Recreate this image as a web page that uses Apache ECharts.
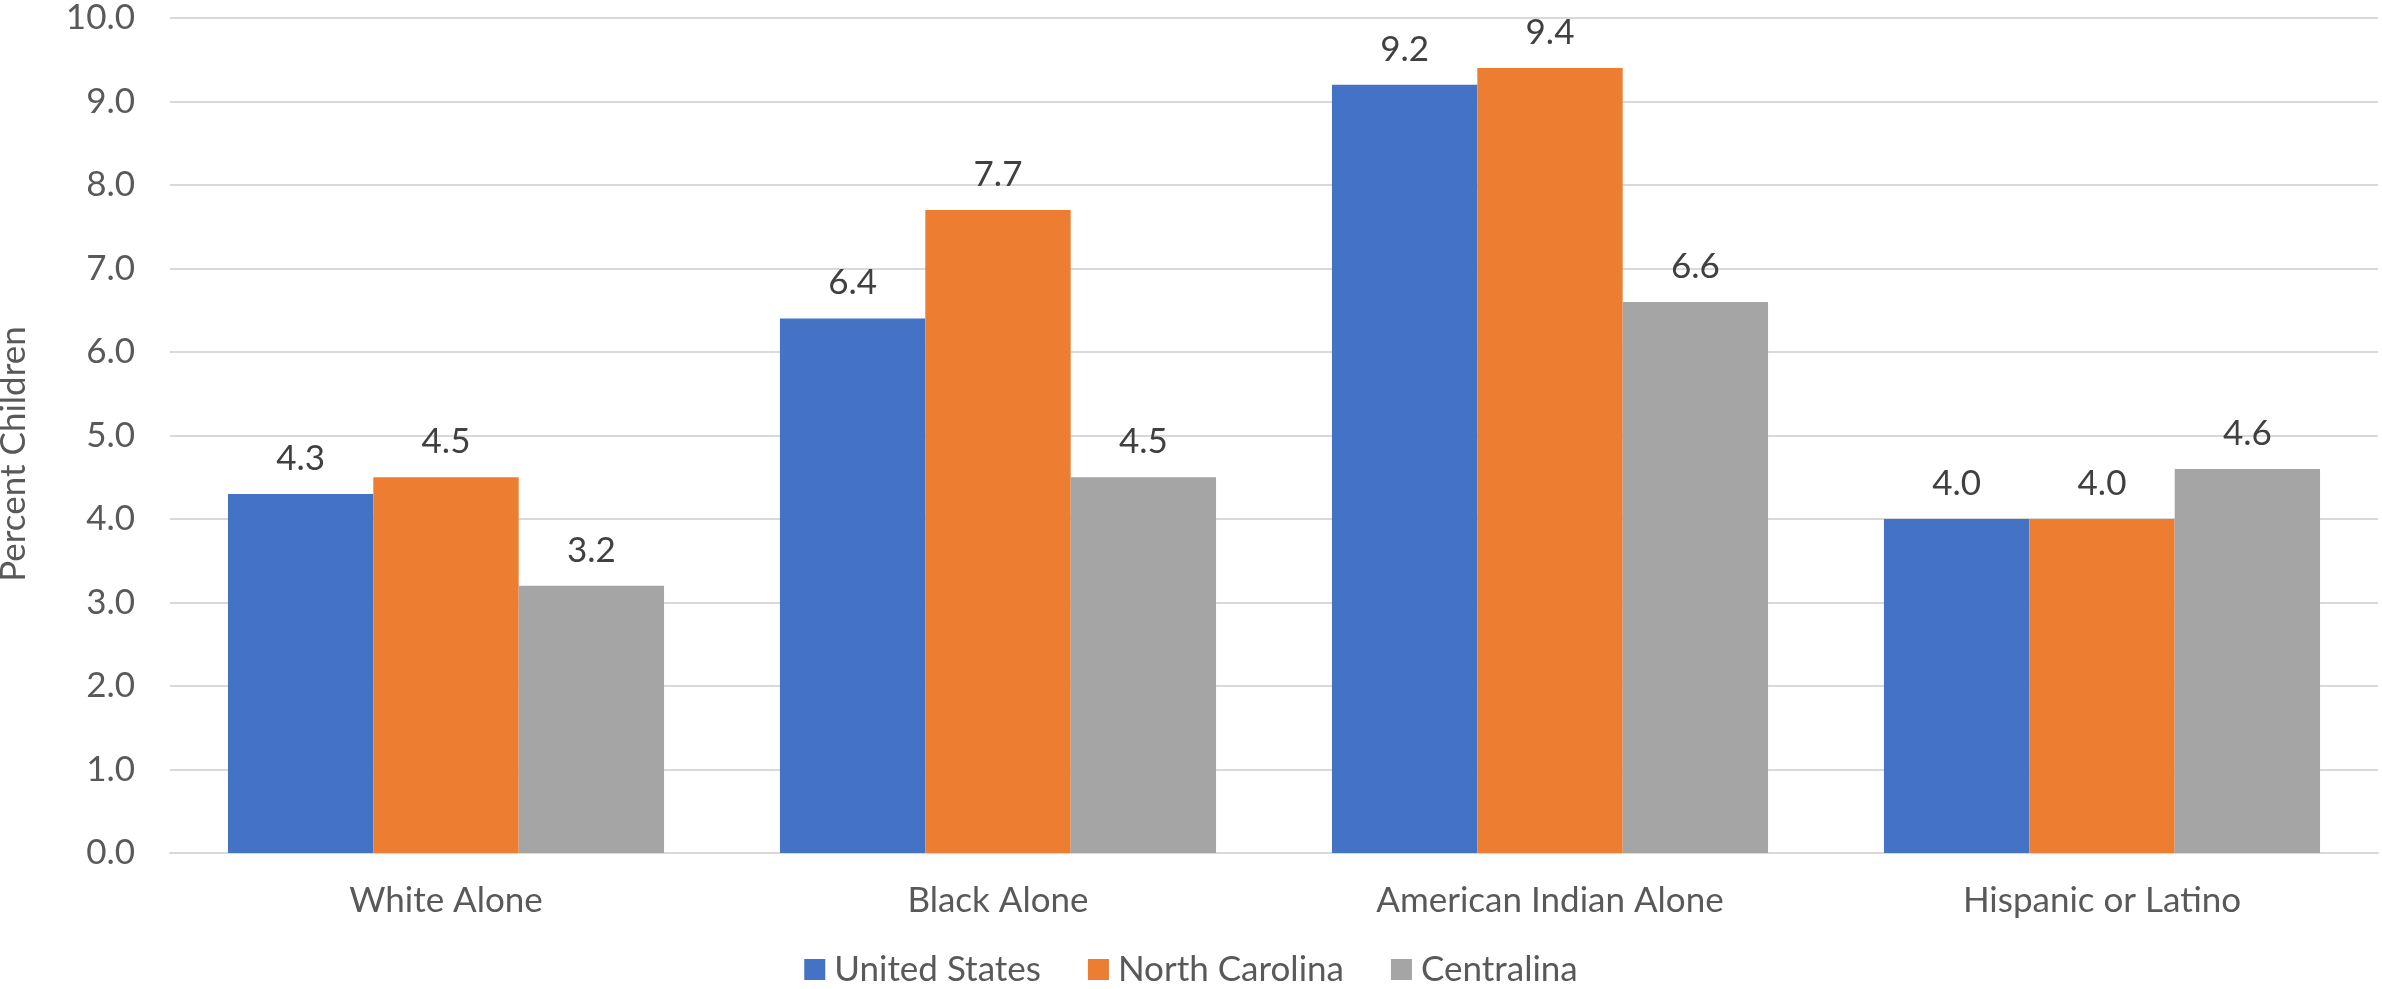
<!DOCTYPE html>
<html>
<head>
<meta charset="utf-8">
<script src="https://cdn.jsdelivr.net/npm/echarts@6/dist/echarts.min.js"></script>
<style>
  html, body { margin: 0; padding: 0; background: #ffffff; }
  #chart { width: 2382px; height: 989px; }
</style>
</head>
<body>
<div id="chart"></div>
<script>
// Percent of children by race / ethnicity, three geographies
const categories = ['White Alone', 'Black Alone', 'American Indian Alone', 'Hispanic or Latino'];
const seriesNames = ['United States', 'North Carolina', 'Centralina'];
const unitedStates = [4.3, 6.4, 9.2, 4.0];
const northCarolina = [4.5, 7.7, 9.4, 4.0];
const centralina = [3.2, 4.5, 6.6, 4.6];
const yTicks = { min: 0, max: 10, interval: 1 };

const FONT = 'Lato, "Open Sans", sans-serif';
const colors = ['#4472C4', '#ED7D31', '#A5A5A5'];
const values = [unitedStates, northCarolina, centralina];

const chart = echarts.init(document.getElementById('chart'), null, { renderer: 'canvas' });

const series = seriesNames.map((name, i) => ({
  name: name,
  type: 'bar',
  data: values[i],
  barGap: '0%',
  barCategoryGap: '21%',
  itemStyle: { color: colors[i] },
  label: {
    show: true,
    position: 'top',
    distance: 18,
    color: '#404040',
    fontFamily: FONT,
    fontSize: 35,
    formatter: p => p.value.toFixed(1)
  }
}));

chart.setOption({
  animation: false,
  backgroundColor: '#ffffff',
  textStyle: { fontFamily: FONT },
  grid: { left: 170, right: 4, top: 18, bottom: 136, containLabel: false },
  legend: {
    data: seriesNames,
    bottom: -3,
    left: 'center',
    itemWidth: 21,
    itemHeight: 21,
    itemGap: 47,
    icon: 'rect',
    textStyle: { color: '#595959', fontSize: 35, fontFamily: FONT, padding: [0, 0, 0, 4] }
  },
  xAxis: {
    type: 'category',
    data: categories,
    axisTick: { show: false },
    axisLine: { show: true, lineStyle: { color: '#D9D9D9', width: 2 } },
    axisLabel: { color: '#595959', fontSize: 35, fontFamily: FONT, margin: 30 }
  },
  yAxis: {
    type: 'value',
    min: yTicks.min,
    max: yTicks.max,
    interval: yTicks.interval,
    axisLine: { show: false },
    axisTick: { show: false },
    splitLine: { lineStyle: { color: '#D9D9D9', width: 2 } },
    axisLabel: {
      color: '#595959', fontSize: 35, fontFamily: FONT, margin: 35,
      formatter: v => v.toFixed(1)
    }
  },
  graphic: [{
    type: 'text',
    x: 14,
    y: 454,
    rotation: Math.PI / 2,
    style: {
      text: 'Percent Children',
      fill: '#595959',
      font: '35px ' + FONT,
      align: 'center',
      verticalAlign: 'middle'
    }
  }],
  series: series
});
</script>
</body>
</html>
